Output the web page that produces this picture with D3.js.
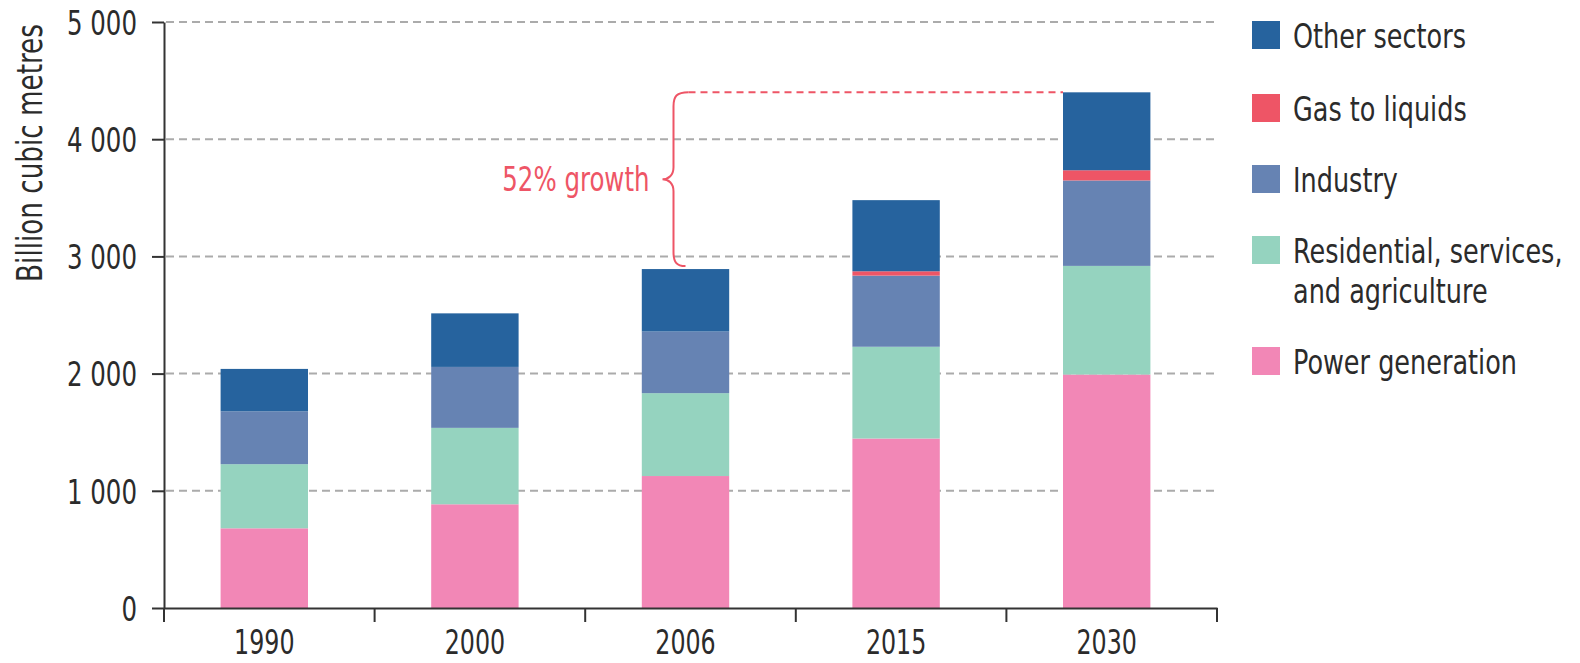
<!DOCTYPE html>
<html>
<head>
<meta charset="utf-8">
<script src="https://cdnjs.cloudflare.com/ajax/libs/d3/7.8.5/d3.min.js"></script>
<style>
  body { margin: 0; background: #fff; }
  svg text { font-family: "Liberation Sans Narrow", "DejaVu Sans Condensed", "Arial Narrow", sans-serif; fill: #2b2b2b; }
</style>
</head>
<body>
<div id="chart"></div>
<script>
// gas demand by sector, bcm
var years = ["1990", "2000", "2006", "2015", "2030"];
var power = [680, 885, 1126, 1446, 1992];
var residential = [547, 652, 707, 783, 927];
var industry = [451, 520, 526, 607, 729];
var gasToLiquids = [0, 0, 0, 37, 87];
var other = [362, 457, 533, 607, 665];
var yTicks = [0, 1000, 2000, 3000, 4000, 5000];

var seriesNames = ["Power generation", "Residential, services, and agriculture", "Industry", "Gas to liquids", "Other sectors"];
var seriesColors = ["#f287b6", "#95d3bf", "#6683b3", "#ee5566", "#26639e"];
var growthLabel = "52% growth";

var svg = d3.select("#chart").append("svg").attr("width", 1580).attr("height", 663);

var x = d3.scaleBand().domain(years).range([164, 1217]).padding(0);
var y = d3.scaleLinear().domain([0, 5000]).range([608, 22]);
var barW = x.bandwidth() * 0.415;
var shift = -5; // bars sit a little left of band centre in the original

var fmt = d3.formatLocale({decimal: ".", thousands: " ", grouping: [3], currency: ["", ""]}).format(",");

// narrow the fallback font to look like the condensed original
function squeeze(sel, k) {
    sel.each(function () {
        var w = this.getComputedTextLength();
        d3.select(this).attr("textLength", w * k).attr("lengthAdjust", "spacingAndGlyphs");
    });
}

var rows = years.map(function (yr, i) {
    return {year: yr, s0: power[i], s1: residential[i], s2: industry[i], s3: gasToLiquids[i], s4: other[i]};
});
var stack = d3.stack().keys(["s0", "s1", "s2", "s3", "s4"])(rows);

// grid
svg.append("g").selectAll("line")
    .data(yTicks.slice(1))
    .enter().append("line")
    .attr("x1", 166).attr("x2", 1217)
    .attr("y1", function (d) { return y(d); })
    .attr("y2", function (d) { return y(d); })
    .attr("stroke", "#ababab")
    .attr("stroke-width", 2)
    .attr("stroke-dasharray", "8,5");

// bars
var layers = svg.append("g").selectAll("g")
    .data(stack)
    .enter().append("g")
    .attr("fill", function (d, i) { return seriesColors[i]; });

layers.selectAll("rect")
    .data(function (d) { return d; })
    .enter().append("rect")
    .attr("x", function (d) { return x(d.data.year) + (x.bandwidth() - barW) / 2 + shift; })
    .attr("width", barW)
    .attr("y", function (d) { return y(d[1]); })
    .attr("height", function (d) { return y(d[0]) - y(d[1]); });

// y axis
var yAxis = svg.append("g")
    .attr("transform", "translate(164,0)")
    .call(d3.axisLeft(y).tickValues(yTicks).tickFormat(fmt).tickSize(12).tickSizeOuter(0).tickPadding(15));
yAxis.select(".domain").attr("stroke", "#333").attr("stroke-width", 2);
yAxis.selectAll(".tick line").attr("stroke", "#333").attr("stroke-width", 2);
yAxis.selectAll(".tick text").style("font-size", "34px").attr("dy", "0.36em").call(squeeze, 0.8);

// x axis
var xAxis = svg.append("g")
    .attr("transform", "translate(0,608)")
    .call(d3.axisBottom(x).tickSize(0).tickSizeOuter(0));
xAxis.select(".domain").attr("stroke", "#333").attr("stroke-width", 2);
xAxis.selectAll(".tick text")
    .style("font-size", "33px")
    .attr("x", shift)
    .attr("y", 46).attr("dy", null)
    .call(squeeze, 0.8);

var bounds = years.map(function (d) { return x(d); }).concat([x.range()[1]]);
xAxis.selectAll(".bnd")
    .data(bounds)
    .enter().append("line")
    .attr("class", "bnd")
    .attr("x1", function (d) { return d; })
    .attr("x2", function (d) { return d; })
    .attr("y1", 0).attr("y2", 14)
    .attr("stroke", "#333").attr("stroke-width", 2);

// y title
svg.append("text")
    .attr("transform", "translate(42,153) rotate(-90) scale(0.81,1)")
    .attr("text-anchor", "middle")
    .style("font-size", "36px")
    .text("Billion cubic metres");

// growth annotation
var i06 = years.indexOf("2006"), i30 = years.indexOf("2030");
var top30 = y(power[i30] + residential[i30] + industry[i30] + gasToLiquids[i30] + other[i30]);
var top06 = y(power[i06] + residential[i06] + industry[i06] + gasToLiquids[i06] + other[i06]) - 3;
var bx = x("2006") + x.bandwidth() / 2 + shift - 12;
var mid = (top30 + top06) / 2;
var red = "#ee5566";

svg.append("path")
    .attr("d", "M" + (bx + 15) + "," + top30 +
        " C" + (bx + 3) + "," + top30 + " " + bx + "," + (top30 + 4) + " " + bx + "," + (top30 + 14) +
        " L" + bx + "," + (mid - 12) +
        " C" + bx + "," + (mid - 4) + " " + (bx - 5) + "," + mid + " " + (bx - 11) + "," + mid +
        " C" + (bx - 5) + "," + mid + " " + bx + "," + (mid + 4) + " " + bx + "," + (mid + 12) +
        " L" + bx + "," + (top06 - 14) +
        " C" + bx + "," + (top06 - 4) + " " + (bx + 3) + "," + top06 + " " + (bx + 12) + "," + top06)
    .attr("fill", "none").attr("stroke", red).attr("stroke-width", 2);

svg.append("line")
    .attr("x1", bx + 15)
    .attr("x2", x("2030") + (x.bandwidth() - barW) / 2 + shift)
    .attr("y1", top30).attr("y2", top30)
    .attr("stroke", red).attr("stroke-width", 2).attr("stroke-dasharray", "7,5");

svg.append("text")
    .attr("x", bx - 24).attr("y", mid + 12)
    .attr("text-anchor", "end")
    .style("font-size", "34px")
    .style("fill", red)
    .text(growthLabel)
    .call(squeeze, 0.8);

// legend, top to bottom
var legend = [
    {name: ["Other sectors"], color: seriesColors[4], top: 21},
    {name: ["Gas to liquids"], color: seriesColors[3], top: 94},
    {name: ["Industry"], color: seriesColors[2], top: 165},
    {name: ["Residential, services,", "and agriculture"], color: seriesColors[1], top: 236},
    {name: ["Power generation"], color: seriesColors[0], top: 347}
];
var lg = svg.append("g").selectAll("g")
    .data(legend)
    .enter().append("g")
    .attr("transform", function (d) { return "translate(1252," + d.top + ")"; });
lg.append("rect").attr("width", 28).attr("height", 28).attr("fill", function (d) { return d.color; });
lg.append("text")
    .attr("transform", "translate(41,0) scale(0.86,1)")
    .style("font-size", "33px")
    .selectAll("tspan")
    .data(function (d) { return d.name; })
    .enter().append("tspan")
    .attr("x", 0)
    .attr("y", function (d, i) { return 27 + i * 40; })
    .text(function (d) { return d; });
</script>
</body>
</html>
